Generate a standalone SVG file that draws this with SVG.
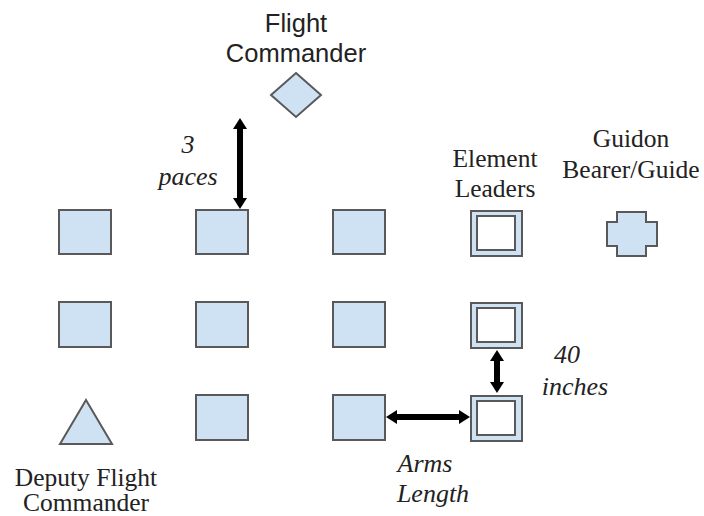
<svg xmlns="http://www.w3.org/2000/svg" width="704" height="516" viewBox="0 0 704 516">
<defs>
<style>
.s{fill:#cfe2f3;stroke:#595959;stroke-width:2}
.w{fill:#ffffff;stroke:#595959;stroke-width:2}
.sans{font-family:"Liberation Sans",Arial,sans-serif;font-size:25.5px;fill:#222;text-anchor:middle}
.serif{font-family:"Liberation Serif","Times New Roman",serif;font-size:25.5px;fill:#222;text-anchor:middle}
.it{font-family:"Liberation Serif","Times New Roman",serif;font-size:26px;font-style:italic;fill:#222;text-anchor:middle}
.ar{stroke:#000;stroke-width:6;fill:none;marker-start:url(#h);marker-end:url(#h)}
</style>
<marker id="h" markerUnits="userSpaceOnUse" markerWidth="12" markerHeight="14" viewBox="0 0 12 14" refX="1" refY="7" orient="auto-start-reverse">
<path d="M0,0 L11,7 L0,14 Z" fill="#000"/>
</marker>
</defs>
<rect width="704" height="516" fill="#fff"/>
<g id="flight-commander">
<polygon class="s" points="296,73 321,95 296,117 271,95"/>
<text class="sans" x="296" y="32">Flight</text>
<text class="sans" x="296" y="62">Commander</text>
</g>
<g id="r1c1"><rect class="s" x="59" y="210" width="52" height="44"/></g>
<g id="r1c2"><rect class="s" x="196" y="210" width="52" height="44"/></g>
<g id="r1c3"><rect class="s" x="333" y="210" width="52" height="44"/></g>
<g id="element-leader-1">
<rect class="s" x="471" y="211" width="51" height="45"/>
<rect class="w" x="477" y="216" width="38" height="34"/>
<text class="serif" x="495" y="167">Element</text>
<text class="serif" x="495" y="197">Leaders</text>
</g>
<g id="guidon">
<polygon class="s" points="617,212 646,212 646,222 657,222 657,246 646,246 646,256 617,256 617,246 607,246 607,222 617,222"/>
<text class="serif" x="631" y="147">Guidon</text>
<text class="serif" x="631" y="178">Bearer/Guide</text>
</g>
<g id="r2c1"><rect class="s" x="59" y="302" width="52" height="45"/></g>
<g id="r2c2"><rect class="s" x="196" y="302" width="52" height="45"/></g>
<g id="r2c3"><rect class="s" x="333" y="302" width="52" height="45"/></g>
<g id="element-leader-2">
<rect class="s" x="471" y="303" width="51" height="45"/>
<rect class="w" x="477" y="308" width="38" height="34"/>
</g>
<g id="deputy">
<polygon class="s" points="86,400 112,444 60,444"/>
<text class="serif" x="86" y="486">Deputy Flight</text>
<text class="serif" x="86" y="511">Commander</text>
</g>
<g id="r3c2"><rect class="s" x="196" y="395" width="52" height="45"/></g>
<g id="r3c3"><rect class="s" x="333" y="395" width="52" height="45"/></g>
<g id="element-leader-3">
<rect class="s" x="471" y="396" width="51" height="45"/>
<rect class="w" x="477" y="401" width="38" height="34"/>
</g>
<g id="connectors">
<line class="ar" x1="240" y1="128" x2="240" y2="199"/>
<line class="ar" x1="497" y1="360" x2="497" y2="383"/>
<line class="ar" x1="396" y1="417" x2="460" y2="417"/>
</g>
<g id="labels">
<text class="it" x="188" y="153">3</text>
<text class="it" x="188" y="185">paces</text>
<text class="it" x="567" y="363">40</text>
<text class="it" x="575" y="395">inches</text>
<text class="it" x="425" y="472">Arms</text>
<text class="it" x="433" y="502">Length</text>
</g>
</svg>
